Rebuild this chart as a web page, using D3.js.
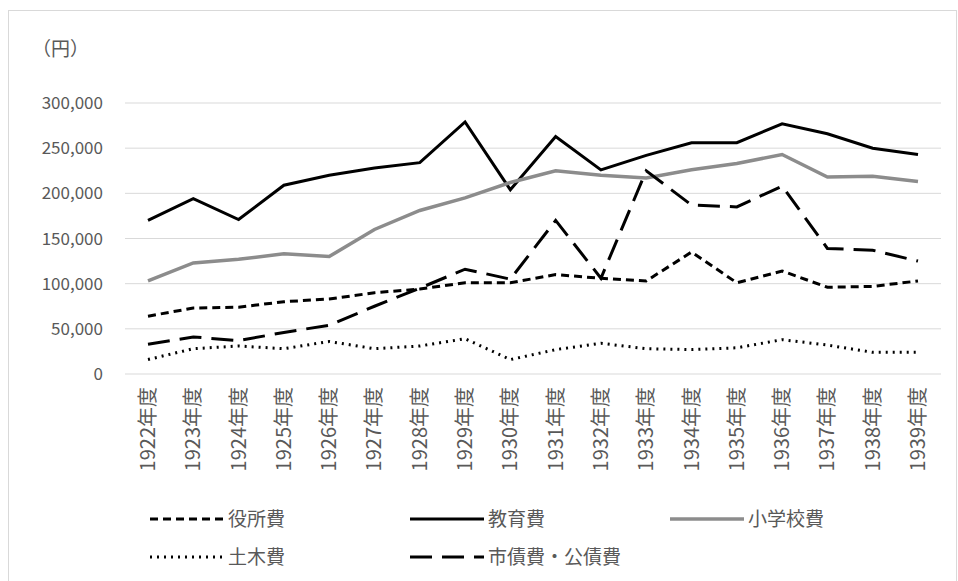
<!DOCTYPE html>
<html><head><meta charset="utf-8">
<script src="https://cdn.jsdelivr.net/npm/d3@7"></script>
<style>body{margin:0;background:#fff}text{font-family:"Noto Sans CJK JP","Noto Sans",sans-serif;fill:#595959}</style>
</head><body><div id="chart"></div>
<script>
var years = ["1922","1923","1924","1925","1926","1927","1928","1929","1930","1931","1932","1933","1934","1935","1936","1937","1938","1939"];
var yakusho = [64000,73000,74000,80000,83000,90000,94000,101000,101000,110000,106000,103000,135000,101000,114000,96000,97000,103000];
var kyoiku = [170000,194000,171000,209000,220000,228000,234000,279000,204000,263000,226000,242000,256000,256000,277000,266000,250000,243000];
var shogakko = [103000,123000,127000,133000,130000,160000,181000,195000,212000,225000,220000,217000,226000,233000,243000,218000,219000,213000];
var doboku = [16000,28000,31000,28000,36000,28000,31000,39000,16000,27000,34000,28000,27000,29000,38000,32000,24000,24000];
var shisai = [33000,41000,37000,46000,54000,75000,95000,116000,105000,170000,106000,225000,187000,185000,208000,139000,137000,125000];
var yTicks = [0,50000,100000,150000,200000,250000,300000];

var series = [
  {name:"役所費", data:yakusho, color:"#000", w:3, dash:"8,5"},
  {name:"教育費", data:kyoiku, color:"#000", w:3, dash:null},
  {name:"小学校費", data:shogakko, color:"#8c8c8c", w:3.5, dash:null},
  {name:"土木費", data:doboku, color:"#000", w:3, dash:"2,5"},
  {name:"市債費・公債費", data:shisai, color:"#000", w:3, dash:"22,10"}
];

var svg = d3.select("#chart").append("svg").attr("width",958).attr("height",581);
svg.append("rect").attr("x",8.5).attr("y",10.5).attr("width",948).attr("height",575)
  .attr("fill","none").attr("stroke","#d9d9d9");

var x = d3.scalePoint().domain(years).range([148,918]);
var y = d3.scaleLinear().domain([0,300000]).range([374,103]);

svg.append("g").selectAll("line").data(yTicks).join("line")
  .attr("x1",125).attr("x2",941).attr("y1",d=>y(d)).attr("y2",d=>y(d))
  .attr("stroke","#d9d9d9");
svg.append("g").selectAll("text").data(yTicks).join("text")
  .attr("x",103).attr("y",d=>y(d)+6).attr("text-anchor","end").attr("font-size",17)
  .text(d=>d3.format(",")(d));
svg.append("text").attr("x",32).attr("y",56).attr("font-size",19).text("（円）");

svg.append("g").selectAll("text").data(years).join("text")
  .attr("transform",d=>`translate(${x(d)+7},${387}) rotate(-90)`)
  .attr("text-anchor","end").attr("font-size",20).text(d=>d+"年度");

var line = d3.line().x((d,i)=>x(years[i])).y(d=>y(d));
series.forEach(s=>{
  svg.append("path").attr("d",line(s.data)).attr("fill","none")
    .attr("stroke",s.color).attr("stroke-width",s.w)
    .attr("stroke-dasharray",s.dash);
});

var legPos = [[150,519],[410,519],[670,519],[150,557],[410,557]];
series.forEach((s,i)=>{
  var p = legPos[i];
  svg.append("line").attr("x1",p[0]).attr("x2",p[0]+74).attr("y1",p[1]).attr("y2",p[1])
    .attr("stroke",s.color).attr("stroke-width",s.w).attr("stroke-dasharray",s.dash);
  svg.append("text").attr("x",p[0]+78).attr("y",p[1]+7).attr("font-size",19).text(s.name);
});
</script></body></html>
